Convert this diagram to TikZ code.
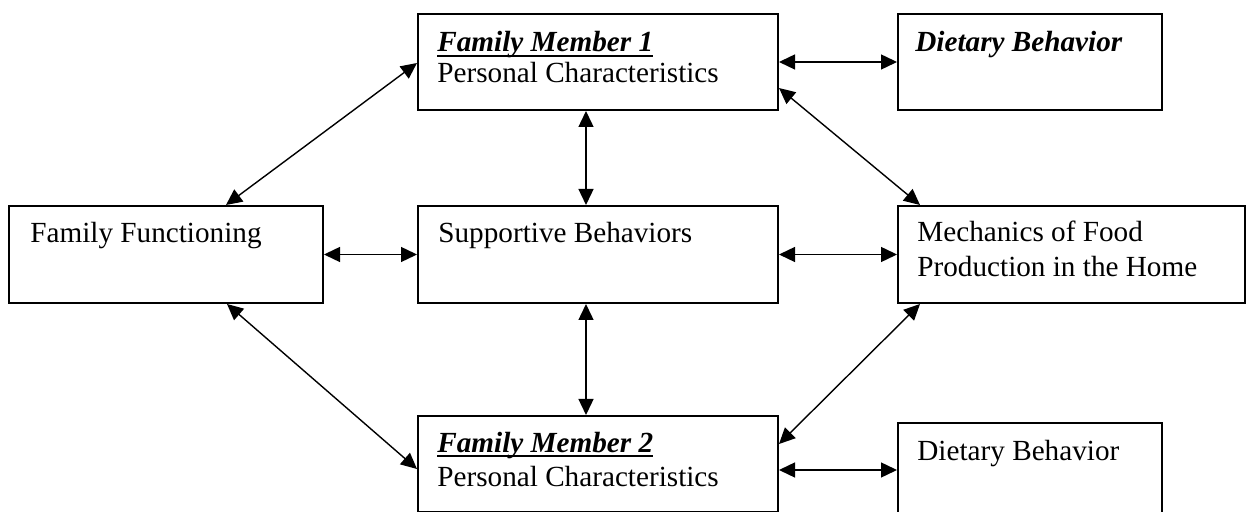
\documentclass[tikz,border=0pt]{standalone}
\usepackage{fontspec}
\setmainfont{Liberation Serif}
\usetikzlibrary{arrows.meta,calc}
\newcommand\myul[1]{\setbox0\hbox{#1}\rlap{\rule[-2.6pt]{\wd0}{1pt}}\box0}
\begin{document}
\begin{tikzpicture}[x=0.5pt,y=-0.5pt,
 box/.style={draw,line width=1pt,rectangle,inner sep=0pt,anchor=north west},
 txt/.style={anchor=base west,inner sep=0pt,font=\fontsize{14.6}{16}\selectfont},
 arr/.style={line width=0.7pt,{Triangle[length=8pt,width=7.5pt]}-{Triangle[length=8pt,width=7.5pt]}}]
\useasboundingbox (0,0) rectangle (1246,512);
\clip (0,0) rectangle (1246,512);
% boxes
\node[box,minimum width=180pt,minimum height=48pt] (fm1) at (417,13) {};
\node[box,minimum width=132pt,minimum height=48pt] (db1) at (897,13) {};
\node[box,minimum width=157pt,minimum height=48.5pt] (ff) at (8,205) {};
\node[box,minimum width=180pt,minimum height=48.5pt] (sb) at (417,205) {};
\node[box,minimum width=173.5pt,minimum height=48.5pt] (mech) at (897,205) {};
\node[box,minimum width=180pt,minimum height=48pt] (fm2) at (417,415) {};
\node[box,minimum width=132pt,minimum height=47pt] (db2) at (897,422) {};
% texts
\node[txt] (fm1a) at ($(fm1.north west)+(20,39)$) {\myul{\textbf{\textit{Family Member 1}}}};
\node[txt] (fm1b) at ($(fm1.north west)+(20,70)$) {Personal Characteristics};
\node[txt] (db1a) at ($(db1.north west)+(18,39)$) {\textbf{\textit{Dietary Behavior}}};
\node[txt] (ffa) at ($(ff.north west)+(22,38)$) {Family Functioning};
\node[txt] (sba) at ($(sb.north west)+(21,38)$) {Supportive Behaviors};
\node[txt] (mecha) at ($(mech.north west)+(20,37)$) {Mechanics of Food};
\node[txt] (mechb) at ($(mech.north west)+(20,72)$) {Production in the Home};
\node[txt] (fm2a) at ($(fm2.north west)+(20,37)$) {\myul{\textbf{\textit{Family Member 2}}}};
\node[txt] (fm2b) at ($(fm2.north west)+(20,72)$) {Personal Characteristics};
\node[txt] (db2a) at ($(db2.north west)+(20,38)$) {Dietary Behavior};
% connectors
\draw[arr] (fm1.east) -- (db1.west);
\draw[arr] ($(ff.north west)+(218,0)$) -- ($(fm1.west)+(0,1)$);
\draw[arr] ([xshift=-6pt]fm1.south) -- ([xshift=-6pt]sb.north);
\draw[arr] ($(fm1.south east)+(0,-23)$) -- ($(mech.north west)+(23,0)$);
\draw[arr] (ff.east) -- (sb.west);
\draw[arr] (sb.east) -- (mech.west);
\draw[arr] ($(ff.south west)+(219,0)$) -- ($(fm2.west)+(0,5)$);
\draw[arr] ([xshift=-6pt]sb.south) -- ([xshift=-6pt]fm2.north);
\draw[arr] ($(mech.south west)+(23,0)$) -- ($(fm2.north east)+(0,29)$);
\draw[arr] (db2.west -| fm2.east) -- (db2.west);
\end{tikzpicture}
\end{document}
